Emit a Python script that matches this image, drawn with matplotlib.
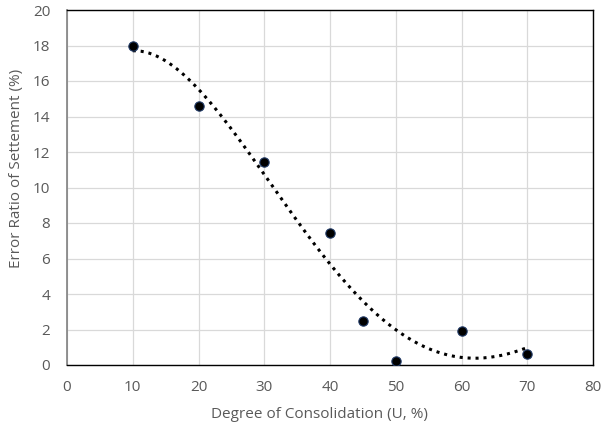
import numpy as np
import matplotlib
matplotlib.use("Agg")
import matplotlib.pyplot as plt

plt.rcParams['font.family'] = ['Open Sans', 'DejaVu Sans']

consolidation = [10, 20, 30, 40, 45, 50, 60, 70]
error_ratio = [17.97, 14.59, 11.42, 7.42, 2.48, 0.24, 1.92, 0.62]

# polynomial (order 4) trendline, like the spreadsheet one
coef = np.polyfit(consolidation, error_ratio, 4)
xs = np.linspace(min(consolidation), max(consolidation), 200)
ys = np.polyval(coef, xs)

fig = plt.figure(figsize=(6.03, 4.30), dpi=100)
ax = fig.add_axes([67 / 603, 65 / 430, 526 / 603, 355 / 430])

ax.plot(xs, ys, color="black", linestyle=(0, (1, 1.6)), linewidth=2.2, zorder=2)
ax.scatter(consolidation, error_ratio, s=45, color="black", edgecolors="#1f3864",
           linewidths=0.8, zorder=3)

ax.set_xlim(0, 80)
ax.set_ylim(0, 20)
ax.set_xticks(range(0, 81, 10))
ax.set_yticks(range(0, 21, 2))
ax.grid(True, color="#d9d9d9", linewidth=0.9)
ax.set_axisbelow(True)
ax.tick_params(length=0, labelsize=11, colors="#595959")
ax.tick_params(axis="x", pad=11)
ax.tick_params(axis="y", pad=12)

for side in ["top", "right", "bottom"]:
    ax.spines[side].set_color("black")
    ax.spines[side].set_linewidth(1.0)
ax.spines["left"].set_color("#808080")
ax.spines["left"].set_linewidth(1.2)

ax.set_xlabel("Degree of Consolidation (U, %)", fontsize=11, color="#595959")
ax.set_ylabel("Error Ratio of Settement (%)", fontsize=11, color="#595959")
ax.xaxis.set_label_coords(0.479, -0.118)
ax.yaxis.set_label_coords(-0.081, 0.555)

fig.savefig("out.png", dpi=100)
